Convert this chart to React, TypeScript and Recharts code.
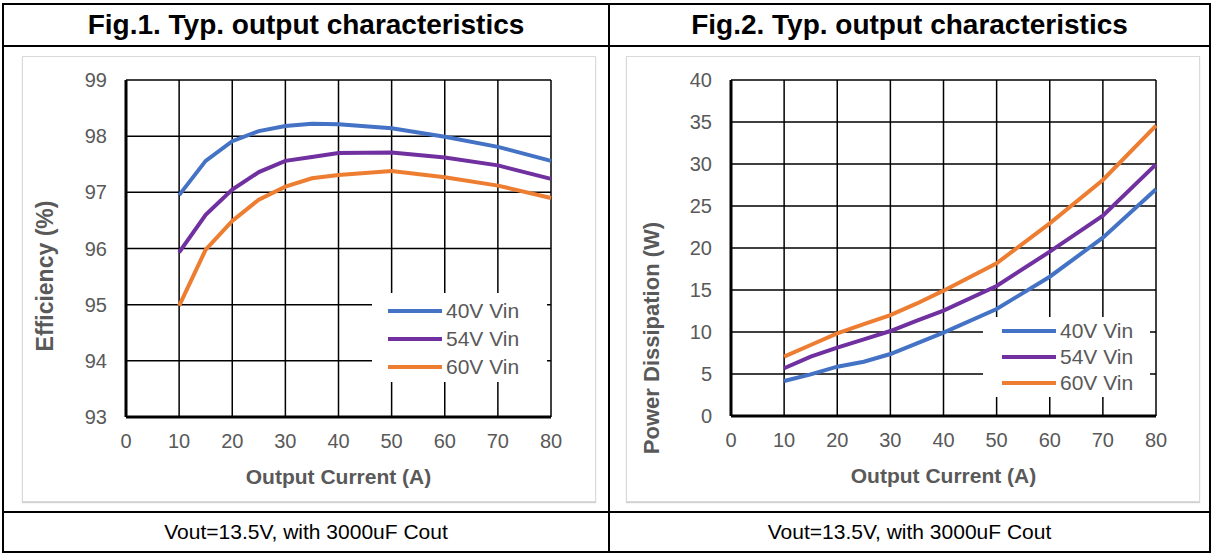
import React from "react";
import { LineChart, Line, XAxis, YAxis, CartesianGrid, Legend } from "recharts";

const currentA = [10, 15, 20, 25, 30, 35, 40, 50, 60, 70, 80];

const eff40 = [96.95, 97.56, 97.91, 98.09, 98.18, 98.22, 98.21, 98.14, 97.99, 97.81, 97.56];
const eff54 = [95.93, 96.6, 97.05, 97.36, 97.56, 97.63, 97.7, 97.71, 97.62, 97.48, 97.24];
const eff60 = [94.98, 95.98, 96.49, 96.87, 97.1, 97.25, 97.31, 97.38, 97.27, 97.12, 96.9];

const loss40 = [4.17, 4.96, 5.87, 6.46, 7.38, 8.65, 9.92, 12.74, 16.58, 21.23, 26.99];
const loss54 = [5.68, 7.06, 8.13, 9.13, 10.12, 11.35, 12.54, 15.48, 19.56, 23.85, 29.96];
const loss60 = [7.06, 8.45, 9.84, 10.95, 12.02, 13.4, 14.92, 18.18, 22.94, 28.1, 34.56];

const xTicks = [0, 10, 20, 30, 40, 50, 60, 70, 80];
const effTicks = [93, 94, 95, 96, 97, 98, 99];
const lossTicks = [0, 5, 10, 15, 20, 25, 30, 35, 40];

const seriesKeys = ["v40", "v54", "v60"];
const seriesNames = ["40V Vin", "54V Vin", "60V Vin"];
const seriesColors = ["#4472C4", "#7030A0", "#ED7D31"];

const FONT = '"Liberation Sans", Arial, sans-serif';
const GRAY = "#595959";

const effData = currentA.map((x, i) => ({ x, v40: eff40[i], v54: eff54[i], v60: eff60[i] }));
const lossData = currentA.map((x, i) => ({ x, v40: loss40[i], v54: loss54[i], v60: loss60[i] }));

type LegendBox = { left: number; top: number; width: number; height: number; rowH: number; firstY: number; lineX: number };

function makeLegend(box: LegendBox) {
  return () => (
    <div style={{ position: "relative", width: box.width, height: box.height, background: "#fff" }}>
      {seriesNames.map((name, i) => {
        const cy = box.firstY + i * box.rowH;
        return (
          <div key={name} style={{ position: "absolute", left: box.lineX, top: cy - 12, height: 24, display: "flex", alignItems: "center" }}>
            <svg width={56} height={24} style={{ display: "block" }}>
              <line x1={0} y1={12} x2={54} y2={12} stroke={seriesColors[i]} strokeWidth={4} />
            </svg>
            <span style={{ fontFamily: FONT, fontSize: 21, color: GRAY, marginLeft: 2, whiteSpace: "nowrap" }}>{name}</span>
          </div>
        );
      })}
    </div>
  );
}

type PanelProps = {
  left: number;
  data: any[];
  yTicks: number[];
  yTitle: string;
  margin: { top: number; right: number; bottom: number; left: number };
  legend: LegendBox;
  yTitleX: number;
  yTitleY: number;
  yTitleSize: number;
};

function ChartPanel({ left, data, yTicks, yTitle, margin, legend, yTitleX, yTitleY, yTitleSize }: PanelProps) {
  const W = 574;
  const H = 446;
  return (
    <div style={{ position: "absolute", left, top: 56, width: W, height: H }}>
      <div style={{ position: "absolute", inset: 0, border: "1px solid #d9d9d9", boxShadow: "0 1px 1px #d0d0d0", boxSizing: "border-box" }} />
      <LineChart width={W} height={H} data={data} margin={{ top: margin.top, right: margin.right, bottom: 0, left: 0 }}>
        <CartesianGrid stroke="#000" strokeWidth={1.5} />
        <XAxis
          dataKey="x"
          type="number"
          domain={[0, 80]}
          ticks={xTicks}
          height={margin.bottom}
          axisLine={{ stroke: "#000", strokeWidth: 3 }}
          tickLine={false}
          tickMargin={11}
          tick={{ fill: GRAY, fontSize: 20, fontFamily: FONT }}
          label={(p: any) => {
            const vb = p.viewBox;
            return (
              <text x={vb.x + vb.width / 2} y={vb.y + 59} textAnchor="middle" dominantBaseline="central" fill={GRAY} fontSize={21} fontWeight="bold" fontFamily={FONT}>
                Output Current (A)
              </text>
            );
          }}
        />
        <YAxis
          type="number"
          domain={[yTicks[0], yTicks[yTicks.length - 1]]}
          ticks={yTicks}
          width={margin.left}
          axisLine={{ stroke: "#000", strokeWidth: 3 }}
          tickLine={false}
          tickMargin={13}
          tick={{ fill: GRAY, fontSize: 20, fontFamily: FONT }}
          label={() => {
            const x = yTitleX;
            const y = yTitleY;
            return (
              <text x={x} y={y} transform={`rotate(-90 ${x} ${y})`} textAnchor="middle" dominantBaseline="central" fill={GRAY} fontSize={yTitleSize} fontWeight="bold" fontFamily={FONT}>
                {yTitle}
              </text>
            );
          }}
        />
        <Legend
          layout="vertical"
          align="center"
          verticalAlign="middle"
          content={makeLegend(legend)}
          wrapperStyle={{ left: legend.left, top: legend.top, width: legend.width, height: legend.height }}
        />
        {seriesKeys.map((k, i) => (
          <Line
            key={k}
            dataKey={k}
            name={seriesNames[i]}
            type="linear"
            stroke={seriesColors[i]}
            strokeWidth={4}
            dot={false}
            isAnimationActive={false}
          />
        ))}
      </LineChart>
    </div>
  );
}

const cellTitle: React.CSSProperties = {
  position: "absolute",
  top: 5,
  height: 40,
  display: "flex",
  alignItems: "center",
  justifyContent: "center",
  fontFamily: FONT,
  fontWeight: "bold",
  fontSize: 28,
  color: "#000",
};

const cellFoot: React.CSSProperties = {
  position: "absolute",
  top: 513,
  height: 38,
  display: "flex",
  alignItems: "center",
  justifyContent: "center",
  fontFamily: FONT,
  fontSize: 21,
  color: "#000",
};

export default function App() {
  const line = (l: number, t: number, w: number, h: number) => (
    <div style={{ position: "absolute", left: l, top: t, width: w, height: h, background: "#000" }} />
  );
  return (
    <div style={{ position: "absolute", left: 0, top: 0, width: 1213, height: 556, background: "#fff" }}>
      <div style={{ ...cellTitle, left: 4, width: 604 }}>Fig.1. Typ. output characteristics</div>
      <div style={{ ...cellTitle, left: 610, width: 599 }}>Fig.2. Typ. output characteristics</div>

      <ChartPanel
        left={22}
        data={effData}
        yTicks={effTicks}
        yTitle="Efficiency (%)"
        margin={{ top: 24, right: 45, bottom: 85, left: 104 }}
        legend={{ left: 350, top: 237, width: 175, height: 89, rowH: 28, firstY: 17.7, lineX: 16 }}
        yTitleX={23}
        yTitleY={220}
        yTitleSize={23}
      />
      <ChartPanel
        left={626}
        data={lossData}
        yTicks={lossTicks}
        yTitle="Power Dissipation (W)"
        margin={{ top: 24, right: 44, bottom: 86, left: 105 }}
        legend={{ left: 357, top: 261, width: 167, height: 80, rowH: 26.3, firstY: 13.7, lineX: 19 }}
        yTitleX={25}
        yTitleY={282}
        yTitleSize={22}
      />

      <div style={{ ...cellFoot, left: 4, width: 604 }}>Vout=13.5V, with 3000uF Cout</div>
      <div style={{ ...cellFoot, left: 610, width: 599 }}>Vout=13.5V, with 3000uF Cout</div>

      {line(2, 3, 1209, 2)}
      {line(2, 45, 1209, 2)}
      {line(2, 511, 1209, 2)}
      {line(2, 551, 1209, 2)}
      {line(2, 3, 2, 550)}
      {line(1209, 3, 2, 550)}
      {line(608, 3, 2, 550)}
    </div>
  );
}
